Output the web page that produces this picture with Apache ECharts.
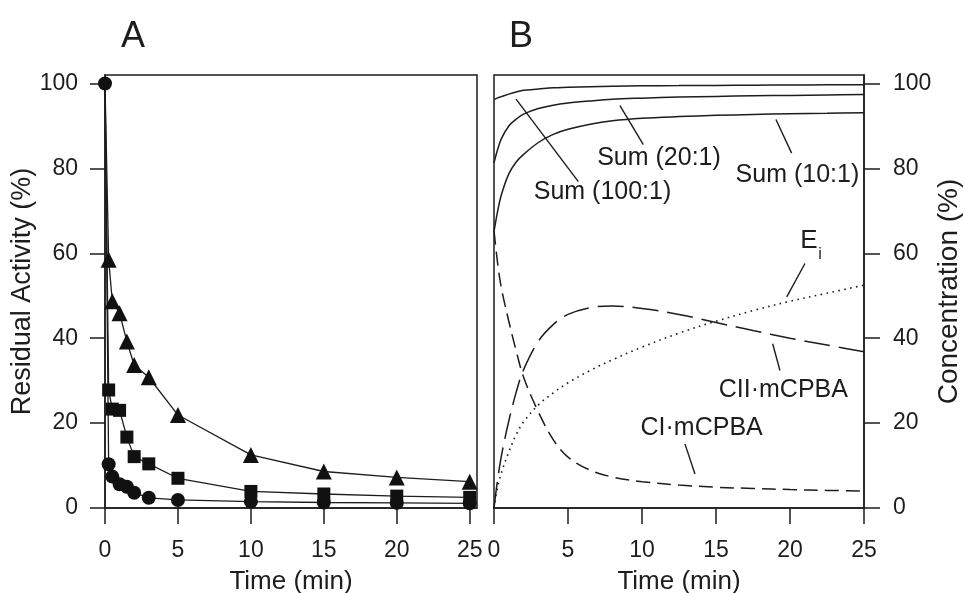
<!DOCTYPE html>
<html><head><meta charset="utf-8">
<script src="https://cdn.jsdelivr.net/npm/echarts@6/dist/echarts.min.js"></script>
<style>html,body{margin:0;padding:0;background:#fff}#c{width:964px;height:593px}</style>
</head><body><div id="c"></div>
<script>
// ---------- Panel A data (residual activity, %) ----------
const timeA = [0, 0.25, 0.5, 1, 1.5, 2, 3, 5, 10, 15, 20, 25];
const triangleVals = [100, 58.5, 48.7, 45.9, 39.2, 33.7, 30.8, 21.9, 12.5, 8.6, 7.2, 6.2];
const squareVals   = [100, 27.8, 23.3, 23.0, 16.7, 12.1, 10.4, 7.0, 3.9, 3.3, 2.8, 2.5];
const circleVals   = [100, 10.3, 7.4, 5.6, 5.0, 3.6, 2.4, 1.9, 1.5, 1.3, 1.2, 1.1];

// ---------- Panel B data (concentration, %) ----------
const timeB   = [0, 0.25, 0.5, 1, 1.5, 2, 3, 4, 5, 6.5, 8, 10, 12.5, 15, 17.5, 20, 22.5, 25];
const sum100  = [96.2, 96.6, 96.9, 97.5, 98.0, 98.4, 98.7, 99.0, 99.1, 99.25, 99.35, 99.45, 99.5, 99.55, 99.6, 99.65, 99.68, 99.7];
const sum20   = [81.3, 84.5, 87.0, 90.0, 91.6, 92.8, 94.1, 94.9, 95.4, 95.9, 96.3, 96.55, 96.8, 96.95, 97.1, 97.2, 97.3, 97.4];
const sum10   = [65.1, 70.0, 73.8, 78.7, 81.5, 83.3, 86.1, 88.0, 89.2, 90.4, 91.2, 91.8, 92.2, 92.5, 92.7, 92.9, 93.0, 93.1];
const ciVals  = [65.3, 57.5, 51.8, 44.0, 37.0, 30.8, 22.6, 16.1, 12.0, 8.9, 7.3, 6.2, 5.4, 4.9, 4.6, 4.35, 4.15, 4.0];
const ciiVals = [0, 6.8, 12.3, 20.5, 27.3, 32.6, 39.3, 43.2, 45.6, 47.2, 47.6, 47.0, 45.6, 43.7, 41.8, 40.0, 38.4, 36.8];
const eiVals  = [0, 5.0, 8.3, 13.2, 17.3, 20.3, 24.3, 27.1, 29.5, 32.4, 34.9, 37.9, 41.2, 44.0, 46.5, 48.7, 50.6, 52.5];

// ---------- tick labels ----------
const xTicks = [0, 5, 10, 15, 20, 25];
const yTicks = [0, 20, 40, 60, 80, 100];

// ---------- annotations (panel B, data coordinates) ----------
const annoTexts  = ['Sum (100:1)', 'Sum (20:1)', 'Sum (10:1)', 'CII\u00B7mCPBA', 'CI\u00B7mCPBA'];
const annoAt     = [[7.33, 74.4], [11.15, 82.4], [20.5, 78.5], [19.55, 27.7], [14.03, 18.85]];
const leaderFrom = [[1.49, 96.3], [8.51, 94.8], [19.05, 91.5], [21.01, 57.6], [18.83, 38.7], [12.9, 15.1]];
const leaderTo   = [[5.70, 76.9], [10.09, 85.6], [20.11, 83.6], [19.78, 49.75], [19.32, 32.4], [13.58, 8.0]];
const eiLabelAt  = [21.28, 62.9];
const eiSubAt    = [22.03, 59.6];

const FONT = '"Liberation Sans", Arial, Helvetica, sans-serif';
const INK = '#1d1d1d';

const pairs = (xs, ys) => xs.map((x, i) => [x, ys[i]]);

function xAxisCfg(grid, max) {
  return {
    gridIndex: grid, type: 'value', min: 0, max: max,
    axisLine: { show: true, onZero: false, lineStyle: { color: INK, width: 1.5 } },
    axisTick: { show: true, inside: false, length: 16, customValues: xTicks, lineStyle: { color: INK, width: 1.5 } },
    axisLabel: { customValues: xTicks, margin: 31, fontSize: 23, color: INK, fontFamily: FONT },
    splitLine: { show: false },
    name: 'Time (min)', nameLocation: 'middle', nameGap: 61,
    nameTextStyle: { fontSize: 26, color: INK, fontFamily: FONT }
  };
}
function yAxisCfg(grid, pos, name) {
  return {
    gridIndex: grid, type: 'value', min: 0, max: 102, position: pos,
    axisLine: { show: true, onZero: false, lineStyle: { color: INK, width: 1.5 } },
    axisTick: { show: true, inside: false, length: pos === 'left' ? 15 : 16, customValues: yTicks, lineStyle: { color: INK, width: 1.5 } },
    axisLabel: { customValues: yTicks, margin: pos === 'left' ? 27 : 29, fontSize: 23, color: INK, fontFamily: FONT },
    splitLine: { show: false },
    name: name, nameLocation: 'middle', nameRotate: 90, nameGap: pos === 'left' ? 61 : 62,
    nameTextStyle: { fontSize: pos === 'left' ? 27 : 28, color: INK, fontFamily: FONT }
  };
}

function markerSeries(name, symbol, size, vals, hideFirst) {
  const data = pairs(timeA, vals).map((d, i) => (hideFirst && i === 0) ? { value: d, symbol: 'none' } : d);
  return {
    name: name, type: 'line', xAxisIndex: 0, yAxisIndex: 0,
    data: data, symbol: symbol, symbolSize: size, showSymbol: true,
    clip: false, z: 3,
    lineStyle: { color: INK, width: 1.3 },
    itemStyle: { color: '#111', borderWidth: 0 }
  };
}
function curveSeries(name, vals, type, extra) {
  return Object.assign({
    name: name, type: 'line', xAxisIndex: 1, yAxisIndex: 1,
    data: pairs(timeB, vals), showSymbol: false, symbol: 'none', smooth: 0.35,
    lineStyle: { color: INK, width: 1.5, type: type }
  }, extra || {});
}

const textStyle = { color: INK, fontSize: 25, fontFamily: FONT };
const markPointData = annoTexts.map((t, i) => ({
  coord: annoAt[i], value: t,
  label: Object.assign({ show: true, position: 'inside', formatter: t }, textStyle)
}));
markPointData.push({ coord: eiLabelAt, value: 'E', label: Object.assign({ show: true, position: 'inside', formatter: 'E' }, textStyle, { fontSize: 26 }) });
markPointData.push({ coord: eiSubAt, value: 'i', label: Object.assign({ show: true, position: 'inside', formatter: 'i' }, textStyle, { fontSize: 16 }) });

const leaderData = leaderFrom.map((p, i) => [{ coord: p }, { coord: leaderTo[i] }]);

const gridBase = { top: 75, height: 433, show: true, borderColor: INK, borderWidth: 1.5, backgroundColor: 'transparent', containLabel: false, outerBoundsMode: 'none' };

const option = {
  backgroundColor: '#fff',
  animation: false,
  textStyle: { fontFamily: FONT },
  graphic: [
    { type: 'text', left: 121, top: 19, style: { text: 'A', font: '36px ' + FONT, fill: INK } },
    { type: 'text', left: 509, top: 19, style: { text: 'B', font: '36px ' + FONT, fill: INK } }
  ],
  grid: [
    Object.assign({ left: 105, width: 372 }, gridBase),
    Object.assign({ left: 494, width: 370 }, gridBase)
  ],
  xAxis: [xAxisCfg(0, 25.5), xAxisCfg(1, 25)],
  yAxis: [yAxisCfg(0, 'left', 'Residual Activity (%)'), yAxisCfg(1, 'right', 'Concentration (%)')],
  series: [
    markerSeries('triangle', 'triangle', 16, triangleVals, true),
    markerSeries('square', 'rect', 13, squareVals, true),
    markerSeries('circle', 'circle', 14, circleVals, false),
    curveSeries('Sum (100:1)', sum100, 'solid', {
      markLine: { silent: true, symbol: ['none', 'none'], label: { show: false },
        lineStyle: { color: INK, width: 1.4, type: 'solid' }, emphasis: { disabled: true }, data: leaderData },
      markPoint: { silent: true, symbol: 'circle', symbolSize: 0, itemStyle: { color: 'transparent' }, data: markPointData }
    }),
    curveSeries('Sum (20:1)', sum20, 'solid'),
    curveSeries('Sum (10:1)', sum10, 'solid'),
    curveSeries('CI·mCPBA', ciVals, [14, 7]),
    curveSeries('CII·mCPBA', ciiVals, [26, 9]),
    curveSeries('Ei', eiVals, [1.6, 4.4], { lineStyle: { color: INK, width: 1.6, type: [1.6, 4.4] } })
  ]
};

const chart = echarts.init(document.getElementById('c'));
chart.setOption(option);
</script>
</body></html>
